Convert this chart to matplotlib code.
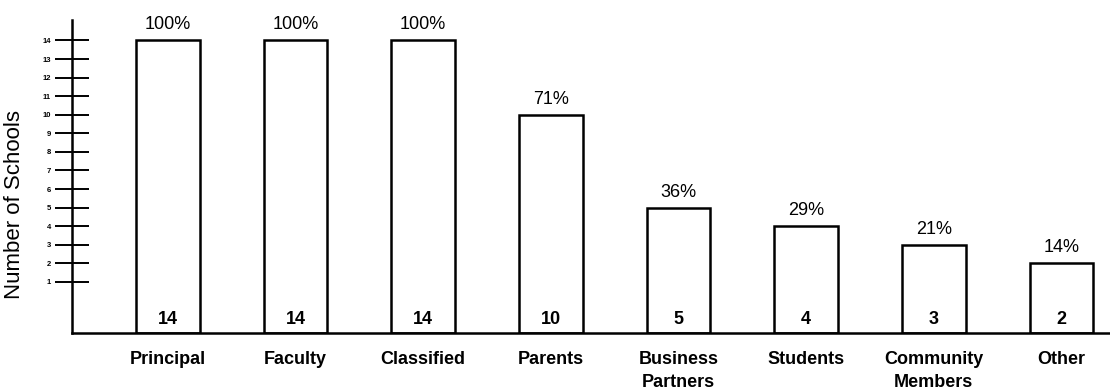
import matplotlib
matplotlib.use("Agg")
import matplotlib.pyplot as plt

categories = ["Principal", "Faculty", "Classified", "Parents",
              "Business\nPartners", "Students", "Community\nMembers", "Other"]
counts = [14, 14, 14, 10, 5, 4, 3, 2]
percents = ["100%", "100%", "100%", "71%", "36%", "29%", "21%", "14%"]
yticks = list(range(1, 15))

BASE = -1.75
plt.rcParams['font.family'] = ['Liberation Sans', 'DejaVu Sans']

fig = plt.figure(figsize=(11.1, 3.9), dpi=100)
W, H = 1110, 390
left_px, right_px, top_px, bot_px = 72, 1110, 20, 333
ax = fig.add_axes([left_px / W, (H - bot_px) / H, (right_px - left_px) / W, (bot_px - top_px) / H])

x = list(range(len(categories)))
heights = [c - BASE for c in counts]
ax.bar(x, heights, bottom=BASE, width=0.5, facecolor='white', edgecolor='black', linewidth=1.8)

for xi, c, p in zip(x, counts, percents):
    ax.annotate(p, (xi, c), xytext=(0, 5), textcoords='offset points',
                ha='center', va='bottom', fontsize=13)
    ax.text(xi, -1.0, str(c), ha='center', va='center', fontsize=13, fontweight='bold')

ax.set_xlim(-0.75, 7.38)
ax.set_ylim(BASE, 15.1)
ax.set_xticks(x)
ax.set_xticklabels(categories, fontsize=13, fontweight='bold', linespacing=1.45)
ax.tick_params(axis='x', length=0, pad=13)
ax.set_yticks(yticks)
ax.set_yticklabels([str(t) for t in yticks], fontsize=5.5, fontweight='bold')
ax.tick_params(axis='y', direction='inout', length=24, width=1.4, pad=3)

for s in ['top', 'right']:
    ax.spines[s].set_visible(False)
ax.spines['left'].set_linewidth(1.8)
ax.spines['bottom'].set_linewidth(1.8)

ax.set_ylabel("Number of Schools", fontsize=16)
ax.yaxis.set_label_coords(-0.045, 0.41)

fig.savefig("out.png", dpi=100)
